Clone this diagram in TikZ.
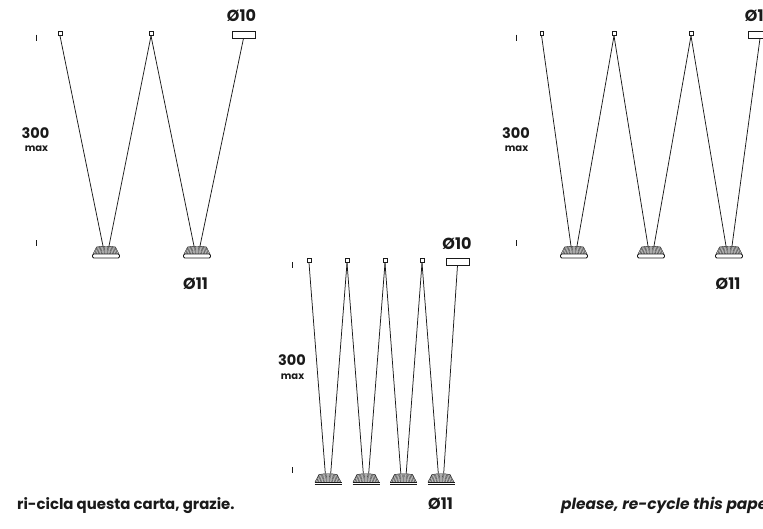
\documentclass[tikz,border=0pt]{standalone}
\usepackage{fontspec}
\setmainfont{Poppins}
\definecolor{ink}{HTML}{1A1A1A}
\tikzset{
  hook/.style={draw=ink,line width=0.6pt,minimum width=3.6pt,minimum height=4.2pt,inner sep=0pt,fill=white},
  canopy/.style={draw=ink,line width=0.75pt,minimum width=23pt,minimum height=7pt,inner sep=0pt,fill=white},
  cable/.style={draw=ink,line width=0.75pt},
  tickmark/.style={draw=ink,line width=0.55pt},
  dia/.style={font=\bfseries\fontsize{16}{18}\selectfont,text=ink,inner sep=0pt},
  big/.style={font=\bfseries\fontsize{14.5}{16}\selectfont,text=ink,inner sep=0pt},
  small/.style={font=\bfseries\fontsize{10}{11}\selectfont,text=ink,inner sep=0pt},
  note/.style={font=\bfseries\fontsize{14.9}{17}\selectfont,text=ink,inner sep=0pt,anchor=west},
  lamp/.pic={
    \coordinate (-a) at (-3,0);
    \coordinate (-b) at (3,0);
    \fill[black!25] (-13,8) -- (-9.5,1) .. controls (-4,0) and (4,0) .. (9.5,1) -- (13,8) -- cycle;
    \draw[ink,line width=0.4pt] (-13,8) -- (-9.5,1) .. controls (-4,0) and (4,0) .. (9.5,1) -- (13,8);
    \foreach \q in {-11.2,-9.6,...,11.3} \draw[ink,line width=0.28pt] ({\q*0.8},0.8) -- (\q,8);
    \draw[ink,line width=0.8pt,fill=white,rounded corners=1.2pt] (-13.5,8) rectangle (13.5,12);
  },
  lampthin/.pic={
    \coordinate (-a) at (-2.7,0);
    \coordinate (-b) at (2.7,0);
    \fill[black!25] (-13,8.5) -- (-9,1) .. controls (-4,0) and (4,0) .. (9,1) -- (13,8.5) -- cycle;
    \draw[ink,line width=0.4pt] (-13,8.5) -- (-9,1) .. controls (-4,0) and (4,0) .. (9,1) -- (13,8.5);
    \foreach \q in {-11.2,-9.6,...,11.3} \draw[ink,line width=0.28pt] ({\q*0.8},0.8) -- (\q,8.5);
    \draw[ink,line width=0.9pt] (-13.5,9) -- (13.5,9);
    \draw[ink,line width=0.5pt] (-13.5,11.2) -- (13.5,11.2);
  },
}
\begin{document}
\begin{tikzpicture}[x=1pt,y=-1pt]
\useasboundingbox (0,0) rectangle (763,528);
\clip (0,0) rectangle (763,528);
\fill[white] (0,0) rectangle (763,528);

% left group
\draw[tickmark] (36,34.5) -- (36,40.5) (36,240) -- (36,246);
\node[big] (t300a) at (35.5,133.5) {300};
\node[small] (tmaxa) at (36.5,148.5) {max};
\pic (la1) at (106,246) {lamp};
\pic (la2) at (197,246) {lamp};
\node[hook] (ha1) at (60,33.5) {};
\node[hook] (ha2) at (151,33.5) {};
\node[canopy] (ca) at (243.5,34.5) {};
\draw[cable] (ha1.south) -- (la1-a);
\draw[cable] (ha2.south) -- (la1-b);
\draw[cable] (ha2.south) -- (la2-a);
\draw[cable] (ca.south) -- (la2-b);
\node[dia] (d10a) at (241.5,15.5) {Ø10};
\node[dia] (d11a) at (195.5,283.5) {Ø11};

% right group
\draw[tickmark] (516.5,34.5) -- (516.5,40.5) (516.5,240) -- (516.5,246);
\node[big] (t300b) at (516,133.5) {300};
\node[small] (tmaxb) at (516.5,148.5) {max};
\pic (lb1) at (574,246) {lamp};
\pic (lb2) at (651,246) {lamp};
\pic (lb3) at (729,246) {lamp};
\node[hook] (hb1) at (541.6,33.5) {};
\node[hook] (hb2) at (614,33.5) {};
\node[hook] (hb3) at (691,33.5) {};
\node[canopy] (cb) at (760,34.5) {};
\draw[cable] (hb1.south) -- (lb1-a);
\draw[cable] (hb2.south) -- (lb1-b);
\draw[cable] (hb2.south) -- (lb2-a);
\draw[cable] (hb3.south) -- (lb2-b);
\draw[cable] (hb3.south) -- (lb3-a);
\draw[cable] (cb.south) -- (lb3-b);
\node[dia] (d10b) at (759.5,15.5) {Ø10};
\node[dia] (d11b) at (728,283.5) {Ø11};

% centre group
\draw[tickmark] (292.5,262) -- (292.5,268) (292.5,467) -- (292.5,473);
\node[big] (t300c) at (292,360.5) {300};
\node[small] (tmaxc) at (292.5,376.5) {max};
\pic (lc1) at (328,473.5) {lampthin};
\pic (lc2) at (366,473.5) {lampthin};
\pic (lc3) at (403.5,473.5) {lampthin};
\pic (lc4) at (441,473.5) {lampthin};
\node[hook] (hc1) at (309,260.5) {};
\node[hook] (hc2) at (347,260.5) {};
\node[hook] (hc3) at (385,260.5) {};
\node[hook] (hc4) at (422,260.5) {};
\node[canopy] (cc) at (457.5,261.5) {};
\draw[cable] (hc1.south) -- (lc1-a);
\draw[cable] (hc2.south) -- (lc1-b);
\draw[cable] (hc2.south) -- (lc2-a);
\draw[cable] (hc3.south) -- (lc2-b);
\draw[cable] (hc3.south) -- (lc3-a);
\draw[cable] (hc4.south) -- (lc3-b);
\draw[cable] (hc4.south) -- (lc4-a);
\draw[cable] (cc.south) -- (lc4-b);
\node[dia] (d10c) at (457,243.5) {Ø10};
\node[dia] (d11c) at (440.5,503.5) {Ø11};

% footers
\node[note] (it) at (17,505.5) {ri-cicla questa carta, grazie.};
\node[note,font=\bfseries\itshape\fontsize{15.4}{17}\selectfont] (en) at (561,505.5) {please, re-cycle this paper.};
\end{tikzpicture}
\end{document}
